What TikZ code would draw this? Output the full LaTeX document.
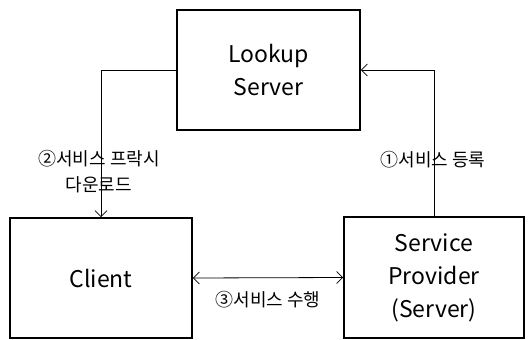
\documentclass[tikz,border=0pt]{standalone}
\usepackage{fontspec}
\setmainfont{Noto Sans CJK KR}
\usetikzlibrary{arrows.meta}
\tikzset{
  box/.style = {draw=black, line width=1.6pt, align=center, inner sep=0pt, font=\fontsize{23}{33}\selectfont},
  conn/.style = {line width=0.8pt, arrows={-Straight Barb[length=6pt,width=12pt]}},
  biconn/.style = {line width=0.8pt, arrows={Straight Barb[length=6pt,width=12pt]-Straight Barb[length=6pt,width=12pt]}},
  lbl/.style = {align=center, inner sep=0pt, font=\fontsize{18}{26}\selectfont}
}
\begin{document}
\begin{tikzpicture}[x=1pt,y=-1pt]
\useasboundingbox (0,0) rectangle (528,340);
\node [box, minimum width=183pt, minimum height=120pt] (lookup) at (268.5,70) {Lookup\\Server};
\node [box, minimum width=182pt, minimum height=120pt] (client) at (101,278) {Client};
\node [box, minimum width=180pt, minimum height=121pt] (provider) at (434,277.5) {Service\\Provider\\(Server)};
% connectors
\draw [conn] (lookup.west) -| (client.north);
\draw [conn] (provider.north) |- (lookup.east);
\draw [biconn] (client.east) -- (provider.west);
% labels
\node [lbl] (lproxy) at (99,172) {②서비스 프락시\\다운로드};
\node [lbl] (lreg) at (433,160) {①서비스 등록};
\node [lbl] (lrun) at (268,300) {③서비스 수행};
\end{tikzpicture}
\end{document}
